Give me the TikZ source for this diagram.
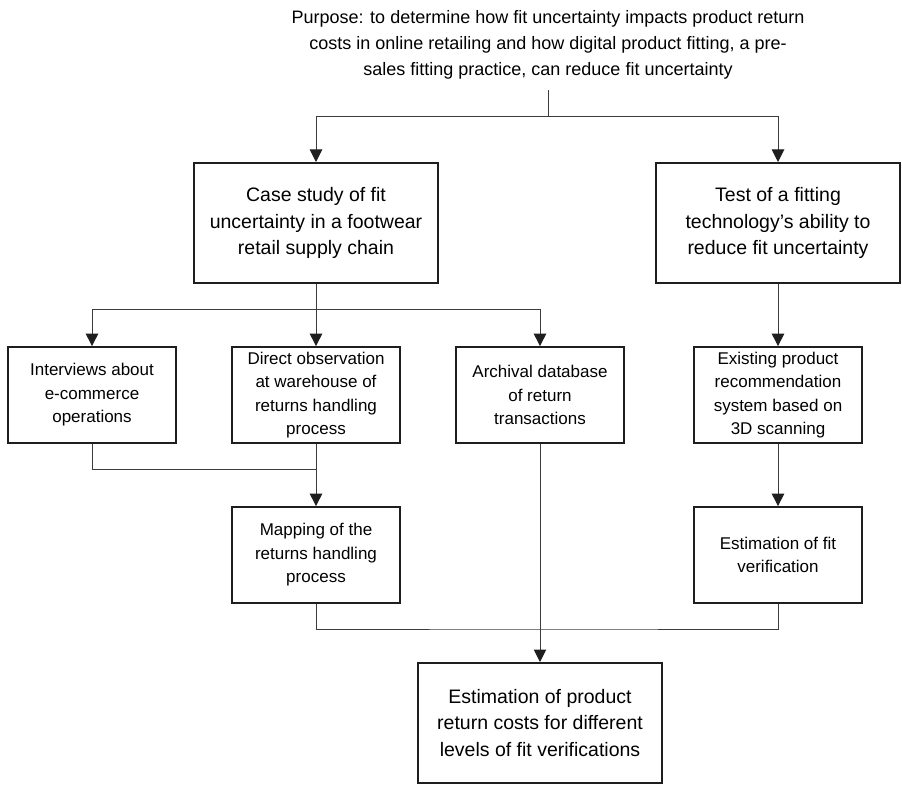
\documentclass[tikz,border=0pt]{standalone}
\usepackage{fontspec}
\setmainfont{Liberation Sans}
\usetikzlibrary{arrows.meta, positioning}
\definecolor{linegray}{RGB}{60, 60, 60}
\definecolor{boxline}{RGB}{30, 30, 30}

\begin{document}
\begin{tikzpicture}[
          x=1pt, y=-1pt,
          bigbox/.style={draw=boxline, line width=2pt, minimum width=244pt, minimum height=120pt,
                         inner sep=0pt, align=center, font=\fontsize{19.5}{26.5}\selectfont},
          box/.style={draw=boxline, line width=1.8pt, minimum width=168pt, minimum height=96pt,
                      inner sep=0pt, align=center, font=\fontsize{17}{23.5}\selectfont},
          arr/.style={-{Triangle[length=12.5pt, width=12.5pt, color=boxline]}, line width=1pt, color=linegray},
          link/.style={line width=1pt, color=linegray},
        ]
        \useasboundingbox (0,0) rectangle (902,786);

        \node[align=center, inner xsep=0pt, inner ysep=11pt, font=\fontsize{18}{26}\selectfont] (aim) at (548,44.5)
          {Purpose: to determine how fit uncertainty impacts product return\\
           costs in online retailing and how digital product fitting, a pre-\\
           sales fitting practice, can reduce fit uncertainty};

        \node[bigbox] (case) at (316,223) {Case study of fit\\uncertainty in a footwear\\retail supply chain};
        \node[bigbox] (test) at (778,223) {Test of a fitting\\technology’s ability to\\reduce fit uncertainty};

        \node[box] (intv)     at (92,395)  {Interviews about\\e-commerce\\operations};
        \node[box] (direct)   at (316,395) {Direct observation\\at warehouse of\\returns handling\\process};
        \node[box] (archive)  at (540,395) {Archival database\\of return\\transactions};
        \node[box] (existing) at (778,395) {Existing product\\recommendation\\system based on\\3D scanning};

        \node[box] (mapping) at (316,555) {Mapping of the\\returns handling\\process};
        \node[box] (estfit)  at (778,555) {Estimation of fit\\verification};

        \node[bigbox] (final) at (540,723) {Estimation of product\\return costs for different\\levels of fit verifications};

        \coordinate (fork1)  at (548,117);
        \coordinate (fork2)  at (316,309);
        \coordinate (merge1) at (316,469);
        \coordinate (merge2) at (540,629);

        \draw[link] (aim) -- (fork1);
        \draw[arr]  (fork1) -| (case);
        \draw[arr]  (fork1) -| (test);

        \draw[link] (case) -- (fork2);
        \draw[arr]  (fork2) -| (intv);
        \draw[arr]  (fork2) -- (direct);
        \draw[arr]  (fork2) -| (archive);
        \draw[arr]  (test) -- (existing);

        \draw[link] (intv) |- (merge1);
        \draw[arr]  (direct) -- (mapping);
        \draw[arr]  (existing) -- (estfit);

        \draw[link] (mapping) |- (merge2) -| (estfit);
        \draw[arr]  (archive) -- (final);
      \end{tikzpicture}
\end{document}
